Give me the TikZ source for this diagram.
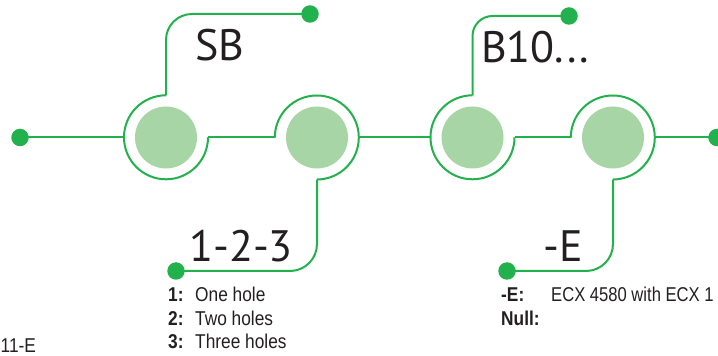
\documentclass[tikz,border=0pt]{standalone}
\usepackage{fontspec}
\setmainfont{PT Sans}
\newfontfamily\condfont[FakeStretch=0.865]{Liberation Sans}
\newfontfamily\condfontn[FakeStretch=0.83]{Liberation Sans}
\definecolor{lgreen}{RGB}{34,177,76}
\definecolor{hfill}{RGB}{168,213,166}
\definecolor{ink}{RGB}{35,31,32}
\begin{document}
\begin{tikzpicture}[x=1pt,y=1pt,
  ring/.style={circle,minimum size=84pt,inner sep=0pt,draw=none},
  hole/.style={circle,minimum size=62pt,inner sep=0pt,fill=hfill},
  dot/.style={circle,minimum size=17.5pt,inner sep=0pt,fill=lgreen},
  wire/.style={draw=lgreen,line width=2pt},
  big/.style={anchor=base west,inner sep=0pt,text=ink,font=\fontsize{44}{44}\selectfont},
  small/.style={anchor=base west,inner sep=0pt,text=ink,font=\condfont\fontsize{20}{22}\selectfont},
  smallb/.style={small,font=\condfont\bfseries\fontsize{20}{22}\selectfont}]
\useasboundingbox (0,0) rectangle (718,356);
% rings and holes
\node[ring] (r1) at (166,218.5) {};
\node[ring] (r2) at (317,218.5) {};
\node[ring] (r3) at (472.5,218.5) {};
\node[ring] (r4) at (613,218.5) {};
\node[hole] (h1) at (r1.center) {};
\node[hole] (h2) at (r2.center) {};
\node[hole] (h3) at (r3.center) {};
\node[hole] (h4) at (r4.center) {};
% dots
\node[dot] (d0) at (20,218.5) {};
\node[dot] (d5) at (717,218.5) {};
\node[dot] (d1) at (310,342) {};
\node[dot] (d3) at (569,340) {};
\node[dot] (d2) at (176,85) {};
\node[dot] (d4) at (507,85) {};
% ring arcs
\draw[wire] (r1.north) arc[start angle=90,end angle=360,radius=42pt];
\draw[wire] (r2.west) arc[start angle=180,end angle=-90,radius=42pt];
\draw[wire] (r3.north) arc[start angle=90,end angle=360,radius=42pt];
\draw[wire] (r4.west) arc[start angle=180,end angle=-90,radius=42pt];
% main line
\draw[wire] (d0.center) -- (r1.west);
\draw[wire] (r1.east) -- (r2.west);
\draw[wire] (r2.east) -- (r3.west);
\draw[wire] (r3.east) -- (r4.west);
\draw[wire] (r4.east) -- (d5.center);
% branches
\draw[wire,rounded corners=26pt] (r1.north) |- (d1.center);
\draw[wire,rounded corners=20pt] (r3.north) |- (d3.center);
\draw[wire,rounded corners=27pt] (r2.south) |- (d2.center);
\draw[wire,rounded corners=27pt] (r4.south) |- (d4.center);
% big labels
\node[big] (tSB) at (195,295) {SB};
\node[big] (tB) at (481,293) {B10...};
\node[big] (t123) at (189,94) {1-2-3};
\node[big] (tE) at (543,94) {-E};
% small texts
\node[smallb] (k1) at (168,54) {1:};
\node[small] (v1) at (195,54) {One hole};
\node[smallb] (k2) at (168,30.5) {2:};
\node[small] (v2) at (195,30.5) {Two holes};
\node[smallb] (k3) at (168,7) {3:};
\node[small] (v3) at (195,7) {Three holes};
\node[smallb] (kE) at (501,54) {-E:};
\node[small,font=\condfontn\fontsize{20}{22}\selectfont] (vE) at (551,54) {ECX 4580 with ECX 1};
\node[smallb] (kN) at (501,30.5) {Null:};
\node[small] (tc) at (0.5,3) {11-E};
\end{tikzpicture}
\end{document}
